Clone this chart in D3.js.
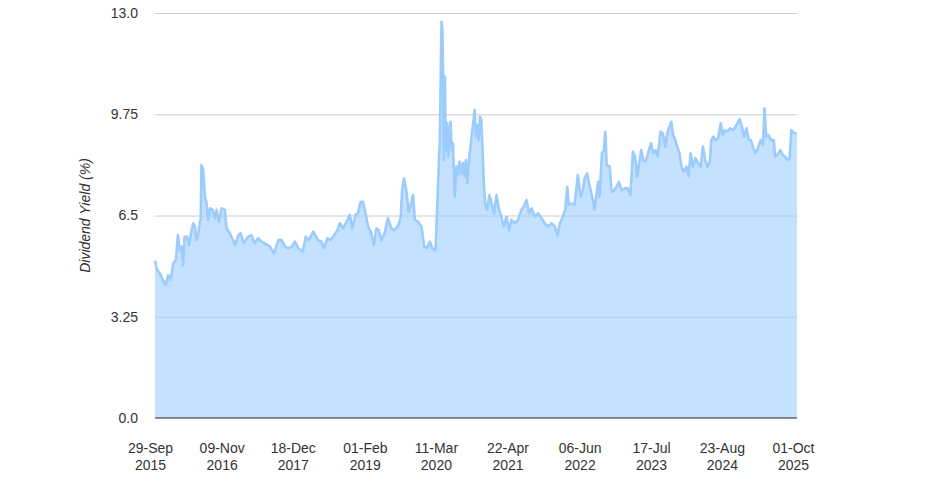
<!DOCTYPE html>
<html>
<head>
<meta charset="utf-8">
<script src="https://cdn.jsdelivr.net/npm/d3@7"></script>
<style>
  html, body { margin: 0; padding: 0; background: #fff; }
  svg { display: block; font-family: "Liberation Sans", Arial, sans-serif; }
</style>
</head>
<body>
<svg id="chart" width="952" height="483"></svg>
<script>
const dates = [
  "2015-10-27","2015-11-05","2015-11-23","2015-12-11","2015-12-28",
  "2016-01-10","2016-01-24","2016-02-08","2016-02-23","2016-03-05","2016-03-16","2016-03-26","2016-04-04","2016-04-12","2016-04-27",
  "2016-05-08","2016-05-19","2016-05-31","2016-06-10","2016-06-19","2016-06-30","2016-07-08","2016-07-13","2016-07-17","2016-07-26",
  "2016-08-06","2016-08-15","2016-08-24","2016-09-04","2016-09-19","2016-10-02","2016-10-11","2016-10-24","2016-11-09","2016-11-27",
  "2016-12-07","2016-12-26",
  "2017-01-24","2017-02-12","2017-02-26","2017-03-14","2017-04-08","2017-04-27","2017-05-16","2017-06-05","2017-06-24","2017-07-12",
  "2017-08-10","2017-09-03","2017-09-27","2017-10-16","2017-11-04","2017-11-23","2017-12-12","2017-12-30",
  "2018-01-19","2018-02-13","2018-03-02","2018-03-20","2018-04-13","2018-04-22","2018-05-10","2018-05-30","2018-06-14","2018-07-03",
  "2018-07-22","2018-08-10","2018-08-29","2018-09-12","2018-10-01","2018-10-20","2018-11-08","2018-11-21","2018-12-10","2018-12-24",
  "2019-01-08","2019-01-22","2019-02-06","2019-02-20","2019-03-10","2019-03-24","2019-04-08","2019-04-21","2019-05-06","2019-05-24",
  "2019-06-12","2019-07-02","2019-07-20","2019-08-12","2019-08-24","2019-09-01","2019-09-12","2019-09-26","2019-10-08","2019-10-20",
  "2019-11-02","2019-11-12","2019-12-01","2019-12-20",
  "2020-01-05","2020-01-18","2020-02-06","2020-02-19","2020-03-09","2020-03-20","2020-03-29","2020-04-02","2020-04-12","2020-04-17",
  "2020-04-21","2020-04-25","2020-05-01","2020-05-06","2020-05-14","2020-05-19","2020-05-25","2020-06-02","2020-06-09","2020-06-16",
  "2020-06-26","2020-07-06","2020-07-15","2020-07-24","2020-08-04","2020-08-13","2020-08-22","2020-08-28","2020-09-06","2020-09-17",
  "2020-09-30","2020-10-09","2020-10-17","2020-10-24","2020-11-01","2020-11-09","2020-11-16","2020-11-24","2020-12-02","2020-12-09",
  "2020-12-16","2020-12-28",
  "2021-01-09","2021-01-22","2021-02-04","2021-02-19","2021-03-05","2021-03-18","2021-04-01","2021-04-16","2021-05-01","2021-05-14",
  "2021-06-03","2021-06-21","2021-07-10","2021-07-23","2021-08-08","2021-08-22","2021-09-06","2021-09-24","2021-10-13","2021-11-02",
  "2021-11-20","2021-12-09","2021-12-28",
  "2022-01-17","2022-02-01","2022-02-14","2022-03-03","2022-03-16","2022-03-28","2022-04-05","2022-04-20","2022-05-08","2022-05-21",
  "2022-05-27","2022-06-12","2022-06-25","2022-07-04","2022-07-19","2022-07-28","2022-08-12","2022-08-31","2022-09-10","2022-09-19",
  "2022-09-28","2022-10-11","2022-10-22","2022-10-30","2022-11-07","2022-11-24","2022-12-04","2022-12-13",
  "2023-01-02","2023-01-15","2023-01-30","2023-02-17","2023-03-07","2023-03-22","2023-04-05","2023-04-18","2023-04-29","2023-05-12",
  "2023-05-22","2023-06-03","2023-06-14","2023-06-25","2023-07-08","2023-07-18","2023-07-29","2023-08-12","2023-08-24","2023-09-09",
  "2023-09-22","2023-10-06","2023-10-17","2023-10-30","2023-11-09","2023-11-20","2023-12-02","2023-12-13","2023-12-26",
  "2024-01-06","2024-01-20","2024-02-04","2024-02-16","2024-02-27","2024-03-11","2024-03-25","2024-04-09","2024-04-24","2024-05-07",
  "2024-05-20","2024-06-02","2024-06-15","2024-06-24","2024-07-05","2024-07-16","2024-08-01","2024-08-16","2024-08-27","2024-09-08",
  "2024-09-23","2024-10-08","2024-10-25","2024-11-08","2024-11-19","2024-12-02","2024-12-15","2024-12-27",
  "2025-01-10","2025-01-23","2025-02-04","2025-02-17","2025-03-01","2025-03-16","2025-03-31","2025-04-13","2025-04-22","2025-05-02",
  "2025-05-15","2025-05-30","2025-06-14","2025-06-22","2025-07-04","2025-07-21","2025-08-04","2025-08-17","2025-09-03","2025-09-12",
  "2025-09-22","2025-10-07","2025-10-24"
];
const yields = [
  5.05,4.80,4.65,4.43,4.27,
  4.59,4.43,4.97,5.07,5.87,5.39,5.50,4.91,5.82,5.82,
  5.55,5.93,6.25,6.14,5.71,5.93,6.30,6.36,8.12,8.01,
  7.10,6.89,6.36,6.73,6.68,6.41,6.68,6.30,6.73,6.68,
  6.09,5.93,
  5.55,5.87,5.93,5.61,5.82,5.87,5.61,5.77,5.66,5.61,
  5.50,5.29,5.71,5.71,5.50,5.45,5.50,5.66,
  5.45,5.34,5.82,5.71,5.98,5.90,5.71,5.66,5.45,5.77,
  5.71,5.87,6.03,6.25,6.09,6.30,6.52,6.09,6.52,6.57,
  6.94,6.94,6.52,6.14,5.93,5.55,6.09,6.03,5.71,5.93,
  6.41,6.09,6.03,6.20,6.46,7.32,7.69,7.26,6.62,6.84,
  7.16,6.36,6.30,6.14,
  5.50,5.45,5.66,5.45,5.39,7.00,8.40,8.82,12.72,12.45,
  10.96,8.28,10.96,8.60,9.46,8.39,9.03,9.51,8.60,8.82,
  7.10,8.07,7.80,8.23,7.85,8.18,7.75,8.28,7.53,8.39,
  9.03,9.46,9.89,9.03,9.41,8.92,9.67,9.57,8.50,7.53,
  6.89,6.68,
  7.16,6.89,6.57,7.16,6.68,6.46,6.14,6.46,6.03,6.36,
  6.25,6.36,6.68,6.78,7.00,6.57,6.73,6.46,6.57,6.41,
  6.25,6.14,6.25,
  6.14,5.87,6.25,6.46,6.68,7.42,6.84,6.89,6.84,7.48,
  7.80,7.10,7.32,7.69,7.85,7.58,7.21,6.68,7.21,7.58,
  7.10,8.50,8.60,9.19,8.12,8.07,7.32,7.26,
  7.42,7.58,7.32,7.37,7.37,7.16,8.55,8.39,7.75,8.23,
  8.60,8.28,8.23,8.39,8.66,8.82,8.50,8.60,8.39,9.19,
  9.14,8.71,9.14,9.35,9.51,9.08,8.92,8.71,8.50,
  8.07,7.91,8.07,7.75,8.50,8.07,8.34,8.18,8.07,8.71,
  8.28,8.07,8.23,8.92,9.03,8.92,8.98,9.46,9.08,9.24,
  9.19,9.30,9.24,9.35,9.46,9.59,9.35,9.03,
  9.30,8.92,8.92,8.66,8.50,8.66,8.92,8.76,9.94,9.03,
  9.08,8.92,8.92,8.39,8.44,8.60,8.44,8.39,8.28,8.34,
  9.24,9.14,9.14
];
const yTicks = [0, 3.25, 6.5, 9.75, 13.0];
const yTickLabels = ["0.0", "3.25", "6.5", "9.75", "13.0"];
const xTickDates = ["2015-09-29","2016-11-09","2017-12-18","2019-02-01","2020-03-11","2021-04-22","2022-06-06","2023-07-17","2024-08-23","2025-10-01"];
const xTickLabels = [["29-Sep","2015"],["09-Nov","2016"],["18-Dec","2017"],["01-Feb","2019"],["11-Mar","2020"],["22-Apr","2021"],["06-Jun","2022"],["17-Jul","2023"],["23-Aug","2024"],["01-Oct","2025"]];
const yTitle = "Dividend Yield (%)";

(function () {
const parse = d3.timeParse("%Y-%m-%d");
const data = dates.map((d, i) => ({ date: parse(d), value: yields[i] }));

const svg = d3.select("#chart");
const mLeft = 155, mRight = 797, mTop = 13, mBottom = 418;

const x = d3.scaleTime()
  .domain([parse(dates[0]), parse(dates[dates.length - 1])])
  .range([mLeft, mRight]);
const y = d3.scaleLinear().domain([0, 13]).range([mBottom, mTop]);

// grid lines
const grid = svg.append("g")
  .attr("transform", `translate(${mLeft},0)`)
  .call(d3.axisLeft(y).tickValues(yTicks.slice(1)).tickSize(-(mRight - mLeft)).tickFormat(""));
grid.select(".domain").remove();
grid.selectAll("line").attr("stroke", "#cccccc").attr("stroke-width", 1);

// area
const area = d3.area()
  .x(d => x(d.date))
  .y0(y(0))
  .y1(d => y(d.value));
svg.append("path")
  .datum(data)
  .attr("d", area)
  .attr("fill", "rgb(160,208,255)")
  .attr("fill-opacity", 0.62);

const line = d3.line()
  .x(d => x(d.date))
  .y(d => y(d.value));
svg.append("path")
  .datum(data)
  .attr("d", line)
  .attr("fill", "none")
  .attr("stroke", "#9ccbfd")
  .attr("stroke-width", 2.6)
  .attr("stroke-linejoin", "round");

// baseline
svg.append("line")
  .attr("x1", mLeft).attr("x2", mRight)
  .attr("y1", y(0)).attr("y2", y(0))
  .attr("stroke", "#666666").attr("stroke-width", 1.5);

// y axis labels
const yAxis = svg.append("g")
  .attr("transform", `translate(${mLeft},0)`)
  .call(d3.axisLeft(y).tickValues(yTicks).tickSize(0).tickPadding(17)
    .tickFormat((d, i) => yTickLabels[i]));
yAxis.select(".domain").remove();
yAxis.selectAll("text")
  .attr("font-size", 14)
  .attr("fill", "#333333")
  .attr("font-family", "'Liberation Sans', Arial, sans-serif");

// x axis labels
const xAxis = svg.append("g")
  .attr("transform", `translate(0,${mBottom})`)
  .call(d3.axisBottom(x).tickValues(xTickDates.map(parse)).tickSize(0).tickFormat(""));
xAxis.select(".domain").remove();
xAxis.selectAll(".tick").each(function(d, i) {
  const t = d3.select(this).append("text")
    .attr("text-anchor", "middle")
    .attr("font-size", 14)
    .attr("fill", "#333333")
    .attr("font-family", "'Liberation Sans', Arial, sans-serif");
  t.append("tspan").attr("x", 0).attr("y", 35).text(xTickLabels[i][0]);
  t.append("tspan").attr("x", 0).attr("y", 52).text(xTickLabels[i][1]);
});

// y title
svg.append("text")
  .attr("transform", `translate(90,${(mTop + mBottom) / 2}) rotate(-90)`)
  .attr("text-anchor", "middle")
  .attr("font-size", 14)
  .attr("font-style", "italic")
  .attr("fill", "#333333")
  .attr("font-family", "'Liberation Sans', Arial, sans-serif")
  .text(yTitle);
})();
</script>
</body>
</html>
